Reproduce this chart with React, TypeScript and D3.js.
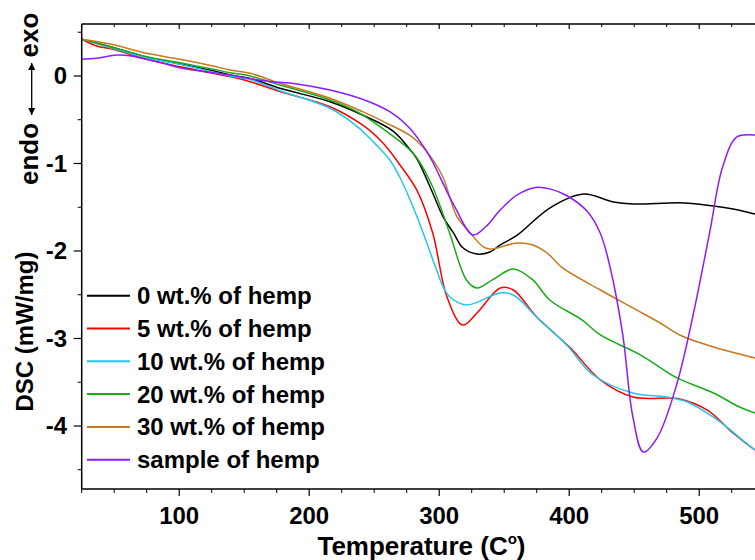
import React from "react";
import * as d3 from "d3";

type Pt = [number, number];

// [temperature °C, DSC mW/mg]
const hemp0: Pt[] = [
  [25, 0.42], [47, 0.335], [75, 0.215], [100, 0.14], [126, 0.06], [139, 0.011], [155, -0.03],
  [177.5, -0.141], [216, -0.294], [241, -0.446], [264.5, -0.63], [277.5, -0.84], [283, -0.95],
  [295, -1.337], [303, -1.611], [311, -1.794], [318, -1.96], [329, -2.034], [339, -2.011],
  [347, -1.93], [360, -1.82], [385, -1.509], [411, -1.349], [434, -1.44], [449, -1.463],
  [488, -1.451], [511, -1.486], [526, -1.52], [543, -1.577], [550, -1.6],
];
const hemp5: Pt[] = [
  [25, 0.42], [36.5, 0.343], [49, 0.305], [75, 0.191], [100.6, 0.106], [126, 0.031], [139, -0.008],
  [154.5, -0.065], [177.5, -0.179], [216, -0.351], [241, -0.56], [254.5, -0.731], [261, -0.84],
  [270, -1.02], [283, -1.31], [295, -1.794], [306, -2.526], [318, -2.846],
  [329, -2.709], [347, -2.423], [357, -2.446], [375, -2.754], [401, -3.109], [424, -3.474],
  [449, -3.669], [485, -3.691], [506, -3.817], [526, -4.08], [543, -4.274], [550, -4.33],
];
const hemp10: Pt[] = [
  [25, 0.42], [75, 0.209], [100.6, 0.134], [139, 0.0], [154.5, -0.04], [177.5, -0.168],
  [216, -0.369], [237, -0.579], [249, -0.75], [262, -0.96], [270, -1.166],
  [283, -1.611], [298, -2.217], [303, -2.408], [308, -2.523], [321, -2.617],
  [347, -2.48], [357, -2.503], [375, -2.754], [398, -3.074], [418.5, -3.417], [449, -3.623],
  [475, -3.669], [491, -3.726], [514, -3.931], [543, -4.274], [550, -4.33],
];
const hemp20: Pt[] = [
  [25, 0.42], [47, 0.335], [75, 0.221], [100.6, 0.152], [126, 0.077], [139, 0.038], [154.5, 0.0],
  [177.5, -0.103], [216, -0.274], [237, -0.41], [254.5, -0.579], [277.5, -0.846], [283, -0.94],
  [295, -1.269], [308, -1.794], [321, -2.331], [329, -2.423], [341, -2.331], [357, -2.206],
  [372, -2.331], [385, -2.56], [410, -2.789], [424, -2.96], [455, -3.189], [483, -3.451],
  [511, -3.623], [531, -3.783], [543, -3.851], [550, -3.88],
];
const hemp30: Pt[] = [
  [25, 0.42], [47, 0.366], [75, 0.259], [100.6, 0.191], [126, 0.114], [139, 0.069], [154.5, 0.031],
  [177.5, -0.083], [216, -0.255], [241, -0.408], [259.8, -0.541], [277.5, -0.68], [288, -0.82],
  [296, -0.98], [302.9, -1.154], [313.7, -1.611], [321.4, -1.75], [334, -1.954], [339, -1.977],
  [344.5, -1.966], [360, -1.909], [372, -1.931], [383, -2.023], [395, -2.194], [424, -2.446],
  [449, -2.651], [470, -2.823], [485, -2.96], [511, -3.097], [543, -3.223], [550, -3.25],
];
const hempSample: Pt[] = [
  [25, 0.19], [36.5, 0.202], [52, 0.24], [62, 0.232], [87.5, 0.145], [100.6, 0.095], [126, 0.038],
  [139, 0.011], [164.5, -0.054], [190.6, -0.091], [216, -0.16], [241, -0.266], [262, -0.408],
  [277.5, -0.6], [289, -0.83], [295, -0.983], [312, -1.497], [326, -1.817],
  [336, -1.72], [347, -1.53], [360, -1.36], [374, -1.275], [385, -1.29], [398, -1.366], [414, -1.55],
  [424, -1.8], [431.5, -2.189], [441, -2.937],
  [449, -3.897], [457, -4.297], [468, -4.126], [483, -3.509], [495, -2.754], [508, -1.794],
  [518, -1.04], [529, -0.697], [543, -0.674], [550, -0.674],
];

const seriesNames = [
  "0 wt.% of hemp",
  "5 wt.% of hemp",
  "10 wt.% of hemp",
  "20 wt.% of hemp",
  "30 wt.% of hemp",
  "sample of hemp",
];
const seriesData = [hemp0, hemp5, hemp10, hemp20, hemp30, hempSample];
const seriesColors = ["#000000", "#ff0000", "#20c8e8", "#18aa18", "#c8781e", "#8a1cff"];

const xMajorTicks = [100, 200, 300, 400, 500];
const yMajorTicks = [0, -1, -2, -3, -4];

const W = 755;
const H = 560;
const FONT = "'Liberation Sans', Arial, Helvetica, sans-serif";

export default function App() {
  const left = 81.7;
  const top = 24;
  const bottom = 489;
  const x = d3.scaleLinear().domain([25, 550]).range([left, left + 525 * 1.3]);
  const y = d3.scaleLinear().domain([-4.72, 0.594]).range([bottom, top]);
  const right = x(550);

  const line = d3
    .line<Pt>()
    .x((d) => x(d[0]))
    .y((d) => y(d[1]))
    .curve(d3.curveCatmullRom.alpha(0.5));

  const xMinor = d3.range(25, 551, 25).filter((t) => t % 100 !== 0);
  const yMinor = d3.range(-4.5, 0.6, 1);

  const legendY0 = 295.7;
  const legendDy = 32.8;

  return (
    <svg
      width={W}
      height={H}
      style={{ position: "absolute", left: 0, top: 0, background: "#fff" }}
      fontFamily={FONT}
    >
      <defs>
        <clipPath id="plotClip">
          <rect x={left} y={top} width={right - left} height={bottom - top} />
        </clipPath>
        <marker id="ah" viewBox="0 0 10 10" refX="10" refY="5" markerWidth="7" markerHeight="7" orient="auto-start-reverse" markerUnits="userSpaceOnUse">
          <path d="M0,0 L10,5 L0,10 z" fill="#000" />
        </marker>
      </defs>
      <rect x={0} y={0} width={W} height={H} fill="#fff" />

      <g clipPath="url(#plotClip)">
        {seriesData.map((s, i) => (
          <path key={i} d={line(s) || ""} fill="none" stroke={seriesColors[i]} strokeWidth={1.5} />
        ))}
      </g>

      <line x1={left} y1={top} x2={left} y2={bottom} stroke="#000" strokeWidth={1.5} />
      <line x1={left} y1={bottom} x2={right} y2={bottom} stroke="#000" strokeWidth={1.5} />
      <line x1={left} y1={top} x2={right} y2={top} stroke="#000" strokeWidth={1.5} />

      {xMajorTicks.map((t) => (
        <g key={"xm" + t}>
          <line x1={x(t)} x2={x(t)} y1={bottom} y2={bottom + 7} stroke="#000" strokeWidth={1.2} />
          <line x1={x(t)} x2={x(t)} y1={top} y2={top + 5} stroke="#000" strokeWidth={1.2} />
          <text x={x(t)} y={524} textAnchor="middle" fontSize={24} fontWeight="bold">
            {t}
          </text>
        </g>
      ))}
      {xMinor.map((t) => (
        <g key={"xn" + t}>
          <line x1={x(t)} x2={x(t)} y1={bottom} y2={bottom + 4} stroke="#000" strokeWidth={1} />
          <line x1={x(t)} x2={x(t)} y1={top} y2={top + 3} stroke="#000" strokeWidth={1} />
        </g>
      ))}

      {yMajorTicks.map((v) => (
        <g key={"ym" + v}>
          <line x1={left - 8} x2={left} y1={y(v)} y2={y(v)} stroke="#000" strokeWidth={1.2} />
          <text x={67} y={y(v)} dy="0.35em" textAnchor="end" fontSize={24} fontWeight="bold">
            {v === 0 ? "0" : "-" + Math.abs(v)}
          </text>
        </g>
      ))}
      {yMinor.map((v) => (
        <line key={"yn" + v} x1={left - 4} x2={left} y1={y(v)} y2={y(v)} stroke="#000" strokeWidth={1} />
      ))}

      <text x={421.5} y={555} textAnchor="middle" fontSize={26} fontWeight="bold">
        Temperature (C
        <tspan fontSize={15} dy={-11}>o</tspan>
        <tspan dy={11}>)</tspan>
      </text>
      <text transform={`translate(33,331.5) rotate(-90)`} textAnchor="middle" fontSize={24} fontWeight="bold">
        DSC (mW/mg)
      </text>
      <text transform={`translate(38,154) rotate(-90)`} textAnchor="middle" fontSize={26} fontWeight="bold">
        endo
      </text>
      <text transform={`translate(38,35) rotate(-90)`} textAnchor="middle" fontSize={26} fontWeight="bold">
        exo
      </text>
      <line x1={31.7} y1={89} x2={31.7} y2={63} stroke="#000" strokeWidth={1.3} markerEnd="url(#ah)" />
      <line x1={31.7} y1={89} x2={31.7} y2={115} stroke="#000" strokeWidth={1.3} markerEnd="url(#ah)" />

      {seriesNames.map((n, i) => (
        <g key={"lg" + i}>
          <line
            x1={87}
            x2={130}
            y1={legendY0 + i * legendDy}
            y2={legendY0 + i * legendDy}
            stroke={seriesColors[i]}
            strokeWidth={2}
          />
          <text x={137} y={legendY0 + i * legendDy} dy="0.35em" fontSize={24} fontWeight="bold">
            {n}
          </text>
        </g>
      ))}
    </svg>
  );
}
